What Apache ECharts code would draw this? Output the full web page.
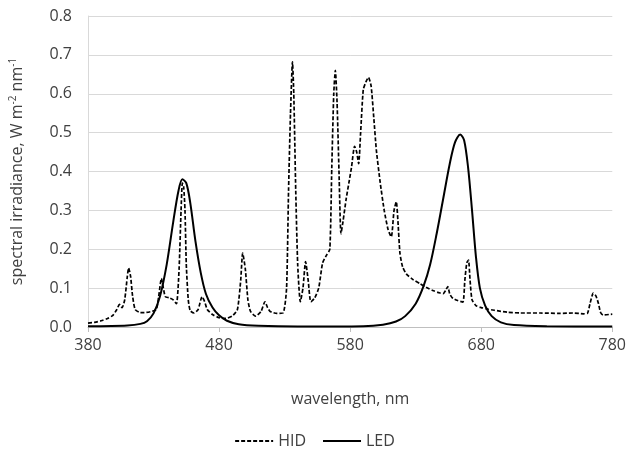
<!DOCTYPE html>
<html>
<head>
<meta charset="utf-8">
<script src="https://cdn.jsdelivr.net/npm/echarts@6/dist/echarts.min.js"></script>
<style>
  html, body { margin: 0; padding: 0; background: #fff; }
  #chart { width: 629px; height: 456px; }
</style>
</head>
<body>
<div id="chart"></div>
<script>
// HID lamp spectrum
var hidNm = [380,385,390,395,399,402,404,406,408,410,411,412.5,414,416,420,426,432,434,436,437.5,439,442,445,447.5,449.5,451,452,453,454,455,456.5,458,461,464,467,469,471,475,480,485,490,494,496.5,498,500,502,504,508,512,515,517,519,524,529,531.5,533,534.5,536,537,538.5,540,542,544,546,548,550,553,556,559,562,564.5,566,567.5,568.7,570,571.5,573,574.5,577,579,581,583.4,585,586.5,588,590,592,594,596,598,600,603,606,609,611.4,613.5,615.2,616.5,618,620,623,628,633,638,643,648,651,653,654.5,656,658.3,662,666,667.5,669,670.3,671.5,673,676,680,685,690,700,710,725,740,750,758,761,763,765.5,767.5,769.5,771,773,780];
var hidVal = [0.01,0.012,0.016,0.022,0.03,0.045,0.058,0.05,0.07,0.13,0.152,0.13,0.08,0.045,0.037,0.038,0.045,0.08,0.125,0.1,0.078,0.075,0.07,0.06,0.15,0.3,0.37,0.36,0.3,0.16,0.07,0.042,0.036,0.045,0.078,0.065,0.045,0.032,0.024,0.022,0.028,0.045,0.12,0.19,0.15,0.07,0.04,0.028,0.04,0.065,0.05,0.04,0.035,0.037,0.1,0.35,0.55,0.682,0.6,0.35,0.16,0.065,0.1,0.168,0.12,0.065,0.075,0.1,0.165,0.185,0.2,0.41,0.6,0.66,0.58,0.4,0.24,0.27,0.33,0.37,0.41,0.465,0.45,0.42,0.5,0.61,0.63,0.642,0.62,0.54,0.455,0.37,0.3,0.25,0.232,0.3,0.322,0.27,0.19,0.155,0.136,0.122,0.112,0.102,0.094,0.088,0.086,0.095,0.104,0.085,0.074,0.068,0.064,0.12,0.165,0.172,0.12,0.07,0.055,0.05,0.046,0.043,0.038,0.036,0.036,0.035,0.036,0.034,0.035,0.06,0.087,0.08,0.06,0.038,0.031,0.033];

// LED spectrum
var ledNm = [380,410,420,425,430,435,440,445,449,452,455,458,462,466,470,475,480,486,495,510,540,590,605,615,622,630,636,641,646,651,656,660,664,667,670,673,676,679,683,688,695,705,730,780];
var ledVal = [0.002,0.004,0.008,0.015,0.035,0.08,0.16,0.27,0.35,0.38,0.37,0.32,0.22,0.14,0.085,0.05,0.03,0.016,0.007,0.003,0.001,0.002,0.006,0.014,0.028,0.06,0.105,0.16,0.24,0.33,0.42,0.475,0.495,0.48,0.41,0.3,0.18,0.1,0.055,0.028,0.012,0.005,0.002,0.001];

var xTicks = [380, 480, 580, 680, 780];
var yTicks = [0, 0.1, 0.2, 0.3, 0.4, 0.5, 0.6, 0.7, 0.8];

function pairs(xs, ys) {
  var out = [];
  for (var i = 0; i < xs.length; i++) out.push([xs[i], ys[i]]);
  return out;
}

var myChart = echarts.init(document.getElementById('chart'));
var txt = '#404040';
var fontFam = '"Open Sans", "Noto Sans", sans-serif';

var option = {
  animation: false,
  textStyle: { fontFamily: fontFam },
  grid: { left: 88, right: 16, top: 16, bottom: 129 },
  legend: {
    bottom: 2,
    left: 'center',
    itemWidth: 38,
    itemHeight: 12,
    itemGap: 16,
    itemStyle: { opacity: 0 },
    textStyle: { color: txt, fontSize: 16, fontFamily: fontFam },
    data: ['HID', 'LED']
  },
  xAxis: {
    type: 'value',
    min: xTicks[0],
    max: xTicks[xTicks.length - 1],
    interval: 100,
    name: 'wavelength, nm',
    nameLocation: 'middle',
    nameGap: 64,
    nameTextStyle: { color: txt, fontSize: 16, fontFamily: fontFam },
    axisLine: { show: true, lineStyle: { color: '#bfbfbf', width: 1 } },
    axisTick: { show: true, length: 5, lineStyle: { color: '#bfbfbf' } },
    axisLabel: { color: txt, fontSize: 16, margin: 10 },
    splitLine: { show: false }
  },
  yAxis: {
    type: 'value',
    min: yTicks[0],
    max: yTicks[yTicks.length - 1],
    interval: 0.1,
    name: 'spectral irradiance, W m{sup|-2} nm{sup|-1}',
    nameLocation: 'middle',
    nameGap: 62,
    nameTextStyle: {
      color: txt, fontSize: 16, fontFamily: fontFam,
      rich: { sup: { fontSize: 10, verticalAlign: 'top', color: txt, padding: [0, 0, 8, 0] } }
    },
    axisLine: { show: true, lineStyle: { color: '#d9d9d9' } },
    axisTick: { show: false },
    axisLabel: {
      color: txt, fontSize: 16, margin: 16,
      formatter: function (v) { return v.toFixed(1); }
    },
    splitLine: { show: true, lineStyle: { color: '#d9d9d9', width: 1 } }
  },
  series: [
    {
      name: 'HID',
      type: 'line',
      symbol: 'none',
      smooth: 0.2,
      lineStyle: { color: '#000', width: 1.7, type: [4, 2] },
      itemStyle: { color: '#000' },
      data: pairs(hidNm, hidVal)
    },
    {
      name: 'LED',
      type: 'line',
      symbol: 'none',
      smooth: 0.3,
      lineStyle: { color: '#000', width: 2 },
      itemStyle: { color: '#000' },
      data: pairs(ledNm, ledVal)
    }
  ]
};
myChart.setOption(option);
window.onresize = myChart.resize;
</script>
</body>
</html>
